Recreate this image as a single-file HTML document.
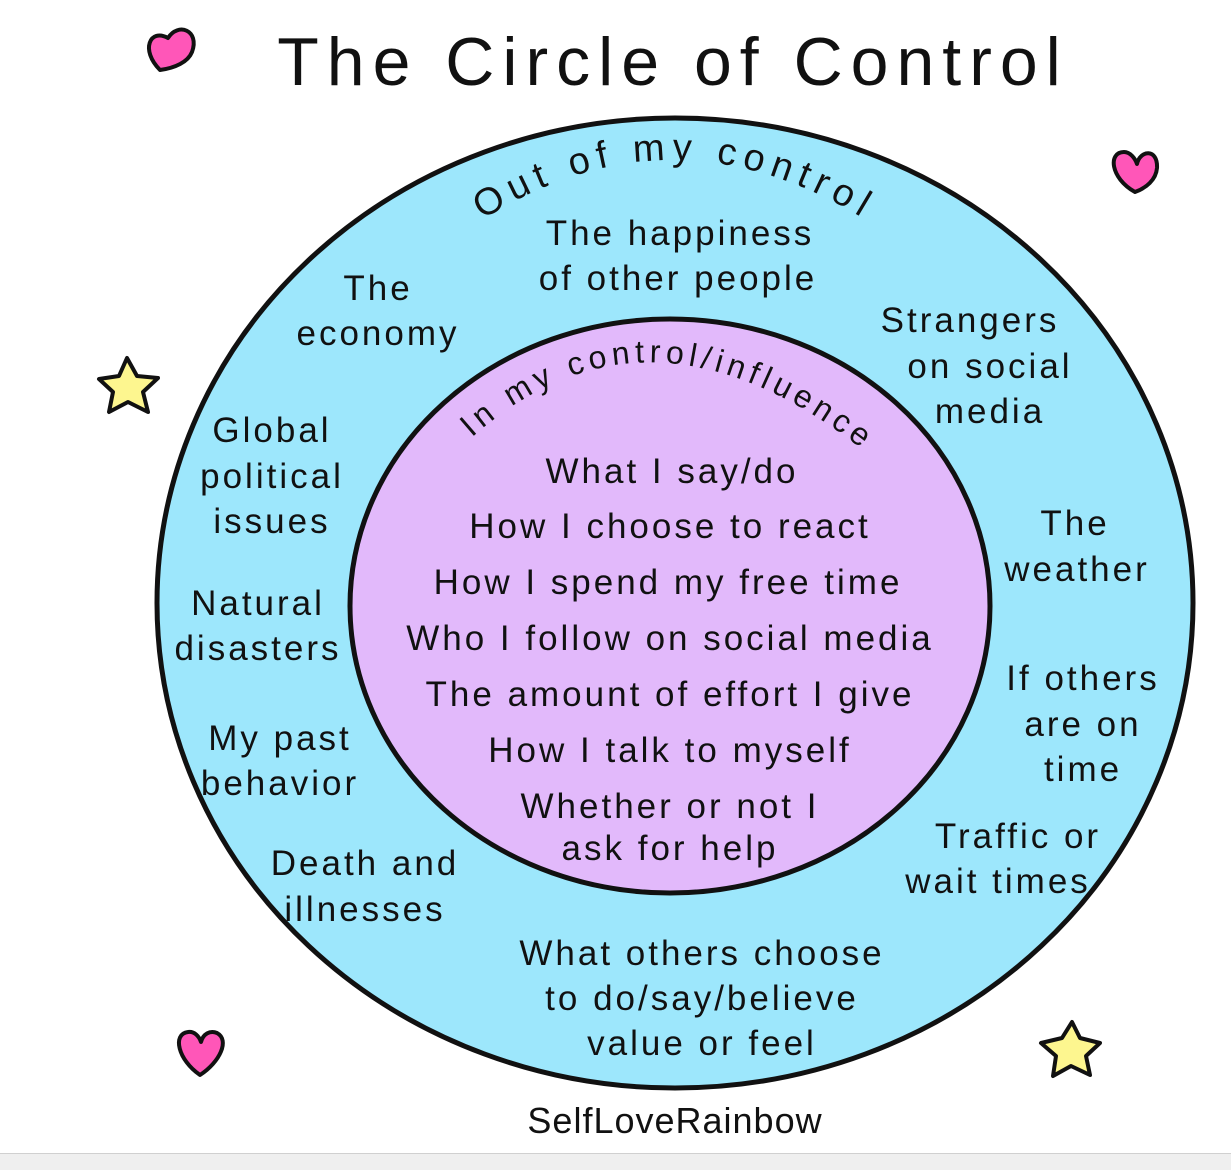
<!DOCTYPE html>
<html><head><meta charset="utf-8"><style>
html,body{margin:0;padding:0;background:#fff;}
svg{display:block;}
text{font-family:"Liberation Sans",sans-serif;fill:#111;}
</style></head><body>
<svg width="1231" height="1170" viewBox="0 0 1231 1170" xmlns="http://www.w3.org/2000/svg">
<rect x="0" y="1153" width="1231" height="17" fill="#efefef"/>
<line x1="0" y1="1153.5" x2="1231" y2="1153.5" stroke="#d0d0d0"/>
<text x="673" y="85" font-size="68" text-anchor="middle" letter-spacing="8">The Circle of Control</text>
<ellipse cx="675" cy="603" rx="518" ry="485" fill="#9de7fc" stroke="#111" stroke-width="5"/>
<ellipse cx="670" cy="606" rx="320" ry="287" fill="#e2b9fb" stroke="#111" stroke-width="5"/>
<defs>
<path id="outerArc" d="M 440 250 Q 670 70 910 250"/>
<path id="innerArc" d="M 430 480 Q 640 240 910 490"/>
</defs>
<text font-size="38" letter-spacing="7"><textPath href="#outerArc" startOffset="50%" text-anchor="middle">Out of my control</textPath></text>
<text font-size="32" letter-spacing="5"><textPath href="#innerArc" startOffset="50%" text-anchor="middle">In my control/influence</textPath></text>
<g font-size="35" text-anchor="middle" letter-spacing="3">
<text x="680" y="245">The happiness</text>
<text x="678" y="290">of other people</text>
<text x="378" y="300">The</text>
<text x="378" y="345">economy</text>
<text x="970" y="332">Strangers</text>
<text x="990" y="378">on social</text>
<text x="990" y="423">media</text>
<text x="272" y="442">Global</text>
<text x="272" y="488">political</text>
<text x="272" y="533">issues</text>
<text x="258" y="615">Natural</text>
<text x="258" y="660">disasters</text>
<text x="280" y="750">My past</text>
<text x="280" y="795">behavior</text>
<text x="1075" y="535">The</text>
<text x="1077" y="581">weather</text>
<text x="1083" y="690">If others</text>
<text x="1083" y="736">are on</text>
<text x="1083" y="781">time</text>
<text x="1018" y="848">Traffic or</text>
<text x="998" y="893">wait times</text>
<text x="365" y="875">Death and</text>
<text x="365" y="921">illnesses</text>
<text x="702" y="965">What others choose</text>
<text x="702" y="1010">to do/say/believe</text>
<text x="702" y="1055">value or feel</text>
</g>
<g font-size="35" text-anchor="middle" letter-spacing="3">
<text x="672" y="483">What I say/do</text>
<text x="670" y="538">How I choose to react</text>
<text x="668" y="594">How I spend my free time</text>
<text x="670" y="650">Who I follow on social media</text>
<text x="670" y="706">The amount of effort I give</text>
<text x="670" y="762">How I talk to myself</text>
<text x="670" y="818">Whether or not I</text>
<text x="670" y="860">ask for help</text>
</g>
<text x="675" y="1133" font-size="36" text-anchor="middle" letter-spacing="1">SelfLoveRainbow</text>
<g fill="#ff56b8" stroke="#111" stroke-width="4" stroke-linejoin="round">
<path d="M160 70 C140 50 150 28 168 38 C178 22 200 30 192 52 C188 62 175 68 160 70 Z"/>
<path d="M1135 192 C1110 178 1108 152 1124 152 C1130 152 1135 158 1137 164 C1140 150 1158 148 1157 168 C1156 180 1146 188 1135 192 Z"/>
<path d="M200 1075 C178 1060 172 1034 188 1032 C194 1031 199 1036 201 1042 C203 1034 210 1030 217 1033 C230 1040 220 1062 200 1075 Z"/>
</g>
<g fill="#fdf68f" stroke="#111" stroke-width="4" stroke-linejoin="round">
<polygon points="127,358 137,376 158,378 143,392 148,412 128,402 109,412 113,392 99,379 119,376"/>
<polygon points="1072,1022 1080,1038 1100,1043 1086,1056 1090,1075 1071,1066 1053,1076 1056,1056 1041,1043 1062,1038"/>
</g>
</svg>
</body></html>
